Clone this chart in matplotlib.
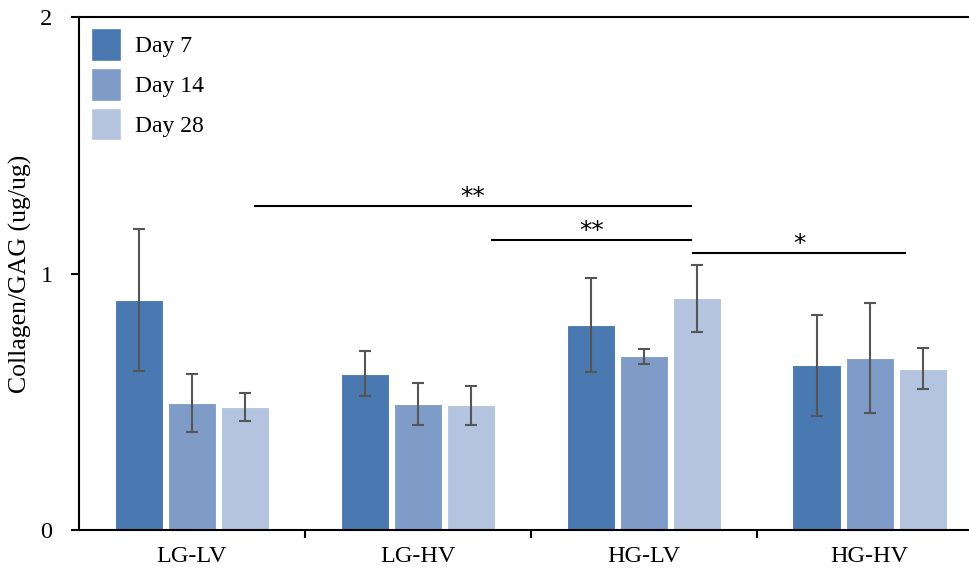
import numpy as np
import matplotlib
matplotlib.use('Agg')
import matplotlib.pyplot as plt
from matplotlib.patches import Patch

plt.rcParams['font.family'] = ['Liberation Serif', 'DejaVu Serif']

# collagen/GAG ratio per group and time point (mean, sd)
groups = ['LG-LV', 'LG-HV', 'HG-LV', 'HG-HV']
days = ['Day 7', 'Day 14', 'Day 28']
day7 = [0.897, 0.610, 0.800, 0.642]
day7_err = [0.278, 0.087, 0.182, 0.198]
day14 = [0.495, 0.492, 0.678, 0.673]
day14_err = [0.113, 0.080, 0.029, 0.214]
day28 = [0.480, 0.487, 0.904, 0.630]
day28_err = [0.055, 0.077, 0.130, 0.080]

# significance brackets: (x start, x end, y, label)
sig_x0 = [0.273, 1.322, 2.215]
sig_x1 = [2.215, 2.215, 3.162]
sig_y = [1.263, 1.130, 1.080]
sig_lab = ['**', '**', '*']

colors = ['#4a78b0', '#7f9cc8', '#b4c4df']

fig = plt.figure(figsize=(9.69, 5.72), dpi=100)
ax = fig.add_axes([0.0815, 0.0726, 0.9185, 0.8985])

x = np.arange(len(groups))
w = 0.213
off = 0.235
for i, (vals, errs) in enumerate([(day7, day7_err), (day14, day14_err), (day28, day28_err)]):
    ax.bar(x + (i - 1) * off, vals, w, color=colors[i], edgecolor='white', linewidth=0.8,
           yerr=errs, error_kw=dict(ecolor='#555555', elinewidth=1.5, capsize=4.5, capthick=1.5),
           label=days[i], zorder=2)

for x0, x1, y, lab in zip(sig_x0, sig_x1, sig_y, sig_lab):
    ax.plot([x0, x1], [y, y], color='black', lw=1.5, solid_capstyle='butt', zorder=3)
    ax.text((x0 + x1) / 2, y - 0.012, lab, ha='center', va='bottom', fontsize=18,
            family=['DejaVu Sans'])

ax.set_xlim(-0.5, 3.44)
ax.set_ylim(0, 2)
ax.set_yticks([0, 1, 2])
ax.set_xticks(x)
ax.set_xticklabels(groups)
ax.set_xticks([0.5, 1.5, 2.5], minor=True)
ax.tick_params(axis='x', which='major', length=0, pad=11, labelsize=17.5)
ax.tick_params(axis='x', which='minor', length=6, width=1.5)
ax.tick_params(axis='y', length=6, width=1.5, pad=13, labelsize=17.5)
ax.set_ylabel('Collagen/GAG (ug/ug)', fontsize=18.5, labelpad=6)

ax.spines['right'].set_visible(False)
for s in ['left', 'bottom', 'top']:
    ax.spines[s].set_linewidth(1.5)

handles = [Patch(facecolor=c, edgecolor='white') for c in colors]
ax.legend(handles, days, loc='upper left', bbox_to_anchor=(0.006, 0.991), frameon=False,
          fontsize=17, handlelength=1.25, handleheight=1.75, labelspacing=0.3,
          handletextpad=0.6, borderaxespad=0.0, borderpad=0.3)

fig.savefig('out.png', dpi=100)
